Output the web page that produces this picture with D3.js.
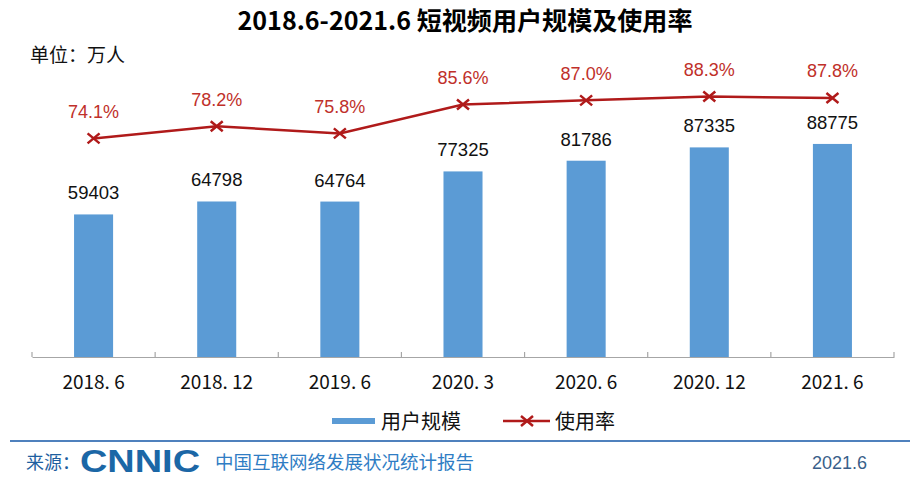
<!DOCTYPE html>
<html>
<head>
<meta charset="utf-8">
<script src="https://cdn.jsdelivr.net/npm/d3@7/dist/d3.min.js"></script>
<style>
  html, body { margin: 0; padding: 0; background: #fff; }
  svg { display: block; }
</style>
</head>
<body>
<svg id="chart" width="921" height="499"></svg>
<script>
const categories = ["2018. 6", "2018. 12", "2019. 6", "2020. 3", "2020. 6", "2020. 12", "2021. 6"];
const users = [59403, 64798, 64764, 77325, 81786, 87335, 88775];
const rate = [74.1, 78.2, 75.8, 85.6, 87.0, 88.3, 87.8];
const titleText = "2018.6-2021.6 短视频用户规模及使用率";
const unitText = "单位：万人";
const legendLabels = ["用户规模", "使用率"];

const svg = d3.select("#chart");
const cjk = "'Noto Sans CJK SC', 'Noto Sans', sans-serif";
const latin = "'Liberation Sans', Arial, sans-serif";

const baseY = 357;
const x = d3.scaleBand().domain(categories).range([32, 894]).paddingInner(0.683).paddingOuter(0.3415);
const y = d3.scaleLinear().domain([0, 100000]).range([baseY, 117]);
const y2 = d3.scaleLinear().domain([0, 100]).range([baseY, 62]);

// title
svg.append("text").attr("x", 465).attr("y", 30).attr("text-anchor", "middle")
  .attr("font-family", cjk).attr("font-weight", "bold").attr("font-size", 25)
  .attr("textLength", 455).attr("lengthAdjust", "spacingAndGlyphs")
  .attr("fill", "#000").text(titleText);

svg.append("text").attr("x", 30).attr("y", 62)
  .attr("font-family", cjk).attr("font-size", 19).attr("fill", "#111").text(unitText);

// bars
svg.append("g").selectAll("rect").data(users).join("rect")
  .attr("x", (d, i) => x(categories[i]))
  .attr("y", d => y(d))
  .attr("width", x.bandwidth())
  .attr("height", d => baseY - y(d))
  .attr("fill", "#5b9bd5");

svg.append("g").selectAll("text").data(users).join("text")
  .attr("x", (d, i) => x(categories[i]) + x.bandwidth() / 2)
  .attr("y", d => y(d) - 15)
  .attr("text-anchor", "middle")
  .attr("font-family", latin).attr("font-size", 18.5).attr("fill", "#111")
  .text(d => d);

// x axis
const xAxis = d3.axisBottom(x).tickSize(0).tickFormat("");
const gx = svg.append("g").attr("transform", `translate(0,${baseY})`).call(xAxis);
gx.select(".domain").attr("stroke", "#a6a6a6").attr("stroke-width", 1.2);
const step = x.step();
const bounds = d3.range(categories.length + 1).map(i => 32 + i * step);
gx.selectAll(".bt").data(bounds).join("line").attr("class", "bt")
  .attr("x1", d => d).attr("x2", d => d).attr("y1", 0).attr("y2", -5)
  .attr("stroke", "#a6a6a6").attr("stroke-width", 1.2);
svg.append("g").selectAll("text").data(categories).join("text")
  .attr("x", d => x(d) + x.bandwidth() / 2)
  .attr("y", 389)
  .attr("text-anchor", "middle")
  .attr("font-family", cjk).attr("font-size", 19).attr("fill", "#111")
  .text(d => d);

// line
const cx = (d, i) => x(categories[i]) + x.bandwidth() / 2;
const line = d3.line().x(cx).y(d => y2(d));
svg.append("path").datum(rate).attr("d", line).attr("fill", "none")
  .attr("stroke", "#b01a1a").attr("stroke-width", 2.5);
const mk = svg.append("g").selectAll("g").data(rate).join("g")
  .attr("transform", (d, i) => `translate(${cx(d, i)},${y2(d)})`);
mk.append("path").attr("d", "M-6,-5L6,5M-6,5L6,-5").attr("stroke", "#b01a1a").attr("stroke-width", 2.5);
svg.append("g").selectAll("text").data(rate).join("text")
  .attr("x", cx)
  .attr("y", d => y2(d) - 20.5)
  .attr("text-anchor", "middle")
  .attr("font-family", latin).attr("font-size", 18).attr("fill", "#c0302a")
  .text(d => d.toFixed(1) + "%");

// legend
const lg = svg.append("g");
lg.append("rect").attr("x", 332).attr("y", 418).attr("width", 43).attr("height", 6).attr("fill", "#5b9bd5");
lg.append("text").attr("x", 381).attr("y", 429).attr("font-family", cjk).attr("font-size", 20).attr("fill", "#111").text(legendLabels[0]);
lg.append("line").attr("x1", 503).attr("x2", 550).attr("y1", 421).attr("y2", 421).attr("stroke", "#b01a1a").attr("stroke-width", 2.5);
lg.append("path").attr("d", "M521,416L533,426M521,426L533,416").attr("stroke", "#b01a1a").attr("stroke-width", 2.5);
lg.append("text").attr("x", 555).attr("y", 429).attr("font-family", cjk).attr("font-size", 20).attr("fill", "#111").text(legendLabels[1]);

// footer
svg.append("line").attr("x1", 10).attr("x2", 910).attr("y1", 441).attr("y2", 441)
  .attr("stroke", "#4f81bd").attr("stroke-width", 2);
svg.append("text").attr("x", 26).attr("y", 469).attr("font-family", cjk).attr("font-size", 18).attr("fill", "#1f5f9f").text("来源：");
svg.append("text").attr("x", 80).attr("y", 472).attr("font-family", latin).attr("font-weight", "bold")
  .attr("font-size", 32).attr("textLength", 120).attr("lengthAdjust", "spacingAndGlyphs").attr("fill", "#1b67a6").text("CNNIC");
svg.append("text").attr("x", 215).attr("y", 469).attr("font-family", cjk).attr("font-size", 18.5).attr("fill", "#2f7dc4").text("中国互联网络发展状况统计报告");
svg.append("text").attr("x", 812).attr("y", 469).attr("font-family", latin).attr("font-size", 18).attr("fill", "#3a5f8a").text("2021.6");
</script>
</body>
</html>
